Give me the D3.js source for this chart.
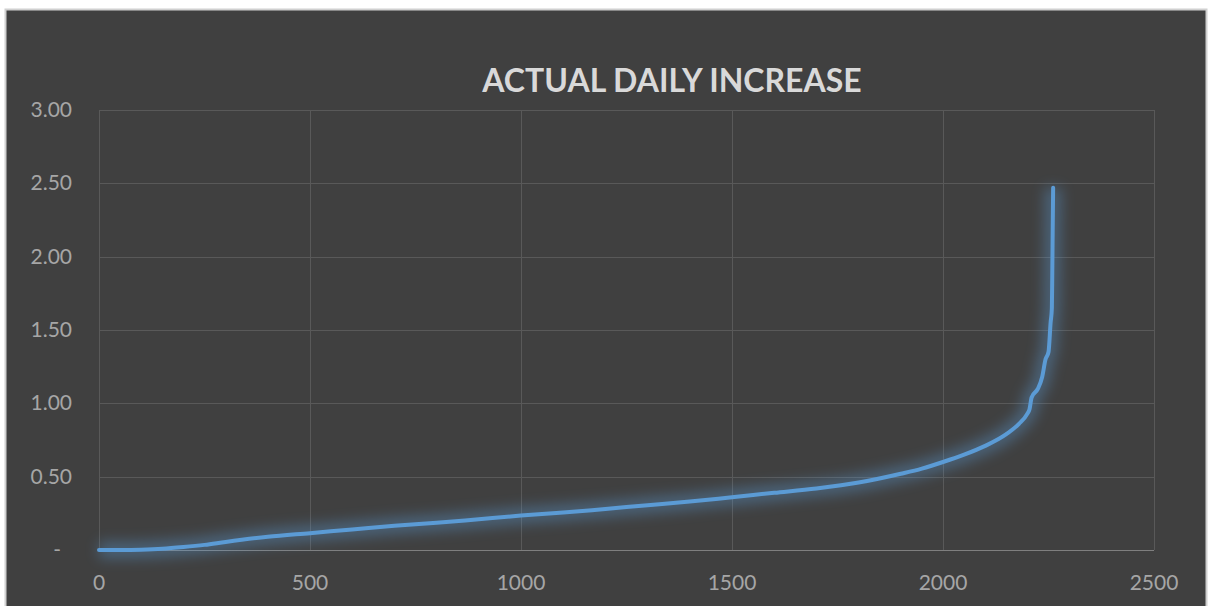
<!DOCTYPE html>
<html><head><meta charset="utf-8">
<script src="https://cdn.jsdelivr.net/npm/d3@7/dist/d3.min.js"></script>
<style>html,body{margin:0;padding:0;background:#fff;}svg{display:block;}</style>
</head><body>
<svg id="c" width="1208" height="606"></svg>
<script>
const title = "ACTUAL DAILY INCREASE";
const xTicks = [0, 500, 1000, 1500, 2000, 2500];
const yTicks = [0, 0.5, 1.0, 1.5, 2.0, 2.5, 3.0];
const yTickLabels = ["-", "0.50", "1.00", "1.50", "2.00", "2.50", "3.00"];
const xValues = [0, 50, 100, 150, 200, 250, 300, 400, 500, 600, 700, 800, 900, 1000, 1100, 1200, 1300, 1400, 1500, 1600, 1700, 1800, 1900, 1950, 2000, 2050, 2100, 2150, 2180, 2200, 2205, 2210, 2225, 2235, 2243, 2250, 2255, 2258, 2259, 2260, 2261];
const yValues = [0, 0, 0.002, 0.008, 0.02, 0.035, 0.055, 0.09, 0.115, 0.14, 0.165, 0.185, 0.21, 0.235, 0.255, 0.28, 0.305, 0.33, 0.36, 0.39, 0.42, 0.46, 0.52, 0.555, 0.60, 0.65, 0.71, 0.79, 0.86, 0.93, 0.96, 1.04, 1.10, 1.18, 1.30, 1.35, 1.55, 1.65, 1.9, 2.2, 2.47];

const svg = d3.select("#c");
svg.append("rect").attr("x",5.5).attr("y",9.5).attr("width",1201).attr("height",600)
  .attr("fill","#404040").attr("stroke","#d0d0d0").attr("stroke-width",2);

const L=99, R=1154, T=110, B=550;
const x = d3.scaleLinear().domain([0,2500]).range([L,R]);
const y = d3.scaleLinear().domain([0,3]).range([B,T]);

const defs = svg.append("defs");
const f = defs.append("filter").attr("id","glow").attr("x","-20%").attr("y","-20%").attr("width","140%").attr("height","140%");
f.append("feGaussianBlur").attr("stdDeviation",7);

const g = svg.append("g");
g.selectAll("line.h").data(yTicks.slice(1)).join("line")
  .attr("x1",L).attr("x2",R).attr("y1",d=>Math.round(y(d))+0.5).attr("y2",d=>Math.round(y(d))+0.5)
  .attr("stroke","#595959").attr("stroke-width",1);
g.selectAll("line.v").data(xTicks).join("line")
  .attr("y1",T).attr("y2",B).attr("x1",d=>Math.round(x(d))+0.5).attr("x2",d=>Math.round(x(d))+0.5)
  .attr("stroke","#595959").attr("stroke-width",1);
g.append("line").attr("x1",L).attr("x2",R).attr("y1",B+0.5).attr("y2",B+0.5).attr("stroke","#7f7f7f").attr("stroke-width",1.2);

const font = "Lato, 'Open Sans', sans-serif";
svg.selectAll("text.yl").data(yTicks).join("text")
  .attr("x",(d,i)=> i===0 ? 61 : 72).attr("y",d=>y(d)+7)
  .attr("text-anchor","end").attr("fill","#a6a6a6")
  .style("font-family",font).style("font-size","21px")
  .text((d,i)=>yTickLabels[i]);
svg.selectAll("text.xl").data(xTicks).join("text")
  .attr("x",d=>x(d)).attr("y",590)
  .attr("text-anchor","middle").attr("fill","#a6a6a6")
  .style("font-family",font).style("font-size","21px")
  .text(d=>d);

svg.append("text").attr("x",672).attr("y",92).attr("text-anchor","middle")
  .attr("fill","#d9d9d9").style("font-family",font).style("font-weight","bold").style("font-size","32px")
  .text(title);

const data = xValues.map((v,i)=>[v,yValues[i]]);
const line = d3.line().x(d=>x(d[0])).y(d=>y(d[1])).curve(d3.curveMonotoneX);
svg.append("path").attr("d",line(data)).attr("fill","none").attr("stroke","#5b9bd5")
  .attr("stroke-width",16).attr("opacity",0.4).attr("filter","url(#glow)").attr("stroke-linejoin","round");
svg.append("path").attr("d",line(data)).attr("fill","none").attr("stroke","#5b9bd5")
  .attr("stroke-width",4).attr("stroke-linejoin","round").attr("stroke-linecap","round");
</script>
</body></html>
